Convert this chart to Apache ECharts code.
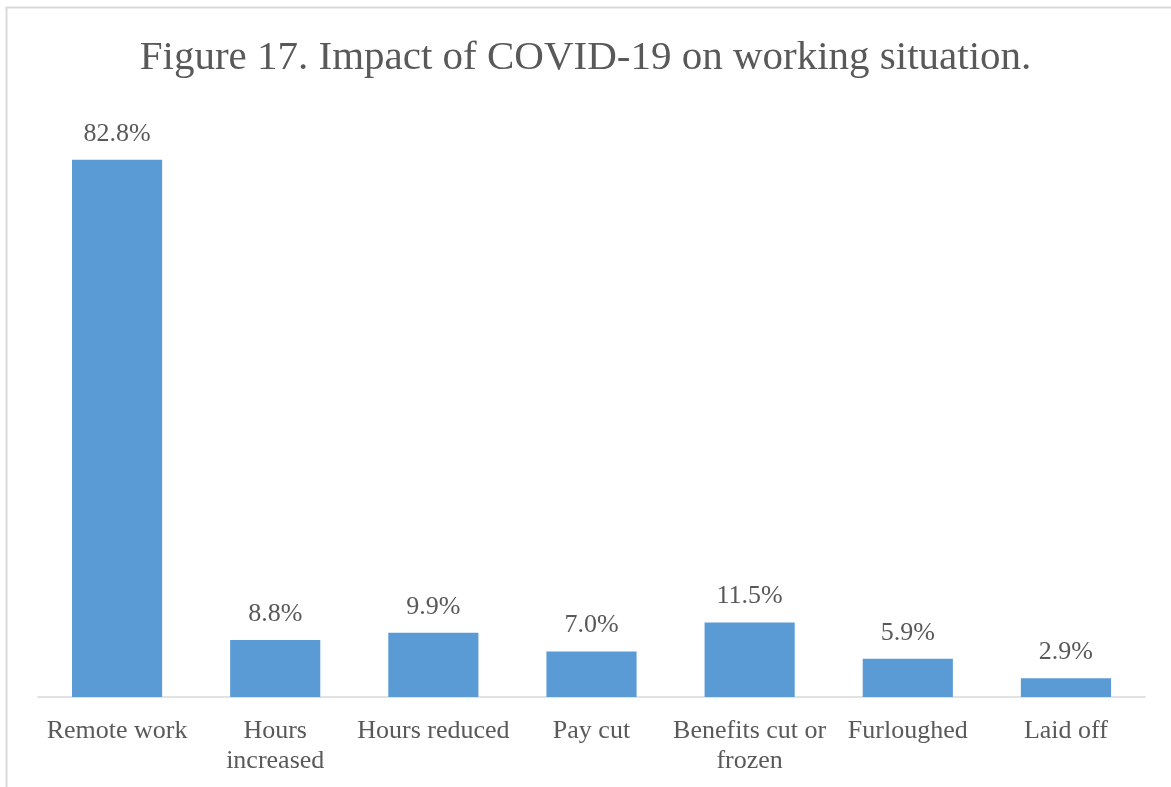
<!DOCTYPE html>
<html>
<head>
<meta charset="utf-8">
<script src="https://cdn.jsdelivr.net/npm/echarts@6/dist/echarts.min.js"></script>
<style>
  html, body { margin: 0; padding: 0; background: #fff; }
  #chart { width: 1171px; height: 787px; }
</style>
</head>
<body>
<div id="chart"></div>
<script>
const categories = ['Remote work', 'Hours\nincreased', 'Hours reduced', 'Pay cut', 'Benefits cut or\nfrozen', 'Furloughed', 'Laid off'];
const shares = [82.8, 8.8, 9.9, 7.0, 11.5, 5.9, 2.9];

const textColor = '#595959';
const serif = '"Liberation Serif", "Times New Roman", serif';

const chart = echarts.init(document.getElementById('chart'), null, { renderer: 'canvas' });
chart.setOption({
  animation: false,
  title: {
    text: 'Figure 17. Impact of COVID-19 on working situation.',
    left: 'center',
    top: 33,
    textStyle: { fontFamily: serif, fontSize: 41, fontWeight: 'normal', color: textColor, lineHeight: 41 }
  },
  graphic: [{
    type: 'rect',
    shape: { x: 6.5, y: 7.5, width: 1300, height: 900 },
    style: { fill: 'none', stroke: '#d9d9d9', lineWidth: 2 },
    silent: true
  }],
  grid: { left: 38, right: 26, top: 113, bottom: 90 },
  xAxis: {
    type: 'category',
    data: categories,
    axisLine: { lineStyle: { color: '#d9d9d9', width: 1.5 } },
    axisTick: { show: false },
    axisLabel: { interval: 0, margin: 19, color: textColor, fontFamily: serif, fontSize: 26, lineHeight: 30 }
  },
  yAxis: { type: 'value', min: 0, max: 90, show: false, splitLine: { show: false } },
  series: [{
    type: 'bar',
    data: shares,
    barWidth: '57%',
    itemStyle: { color: '#5b9bd5' },
    label: {
      show: true,
      position: 'top',
      distance: 13,
      color: textColor,
      fontFamily: serif,
      fontSize: 26,
      formatter: (p) => p.value.toFixed(1) + '%'
    }
  }]
});
</script>
</body>
</html>
